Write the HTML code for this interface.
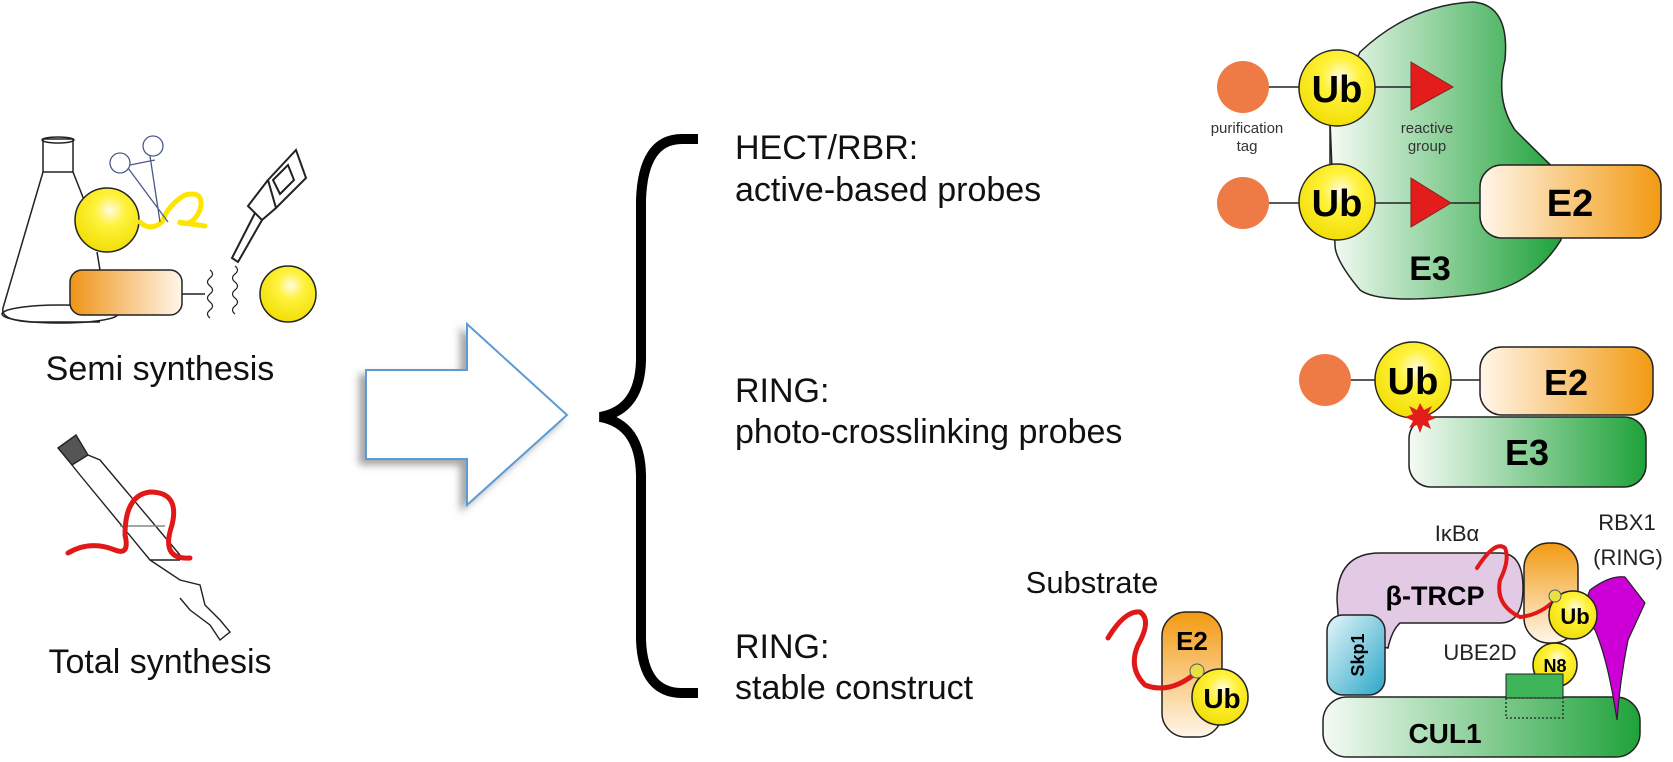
<!DOCTYPE html>
<html><head><meta charset="utf-8"><style>
html,body{margin:0;padding:0;background:#fff}
svg{display:block}
text{font-family:"Liberation Sans",Arial,sans-serif}
</style></head><body>
<svg width="1673" height="762" viewBox="0 0 1673 762" xmlns="http://www.w3.org/2000/svg">
<defs>
<radialGradient id="yel" cx="0.55" cy="0.35" r="0.7"><stop offset="0" stop-color="#fffbe0"/><stop offset="0.35" stop-color="#fff23a"/><stop offset="1" stop-color="#f0dc00"/></radialGradient>
<linearGradient id="orL" x1="0" x2="1"><stop offset="0" stop-color="#fff6ea"/><stop offset="1" stop-color="#f29a12"/></linearGradient>
<linearGradient id="orR" x1="0" x2="1"><stop offset="0" stop-color="#ef9418"/><stop offset="1" stop-color="#fff6ea"/></linearGradient>
<linearGradient id="orV" x1="0" y1="0" x2="0" y2="1"><stop offset="0" stop-color="#f29a12"/><stop offset="1" stop-color="#fff6ea"/></linearGradient>
<linearGradient id="grL" x1="0" x2="1"><stop offset="0" stop-color="#f4fbf4"/><stop offset="1" stop-color="#1fa23a"/></linearGradient>
<linearGradient id="blu" x1="0" y1="0" x2="1" y2="1"><stop offset="0" stop-color="#e6f6fa"/><stop offset="1" stop-color="#2aa6c8"/></linearGradient>
<filter id="sh" x="-20%" y="-20%" width="140%" height="140%"><feDropShadow dx="-6" dy="5" stdDeviation="4" flood-color="#666" flood-opacity="0.6"/></filter>
</defs>

<!-- LEFT: semi synthesis -->
<g fill="none" stroke="#222" stroke-width="1.5">
<rect x="43" y="139" width="30" height="33"/>
<ellipse cx="58" cy="140" rx="16" ry="3"/>
<path d="M43 172 L3 308 Q0 320 30 322 L100 322"/>
<path d="M73 172 L90 215"/>
<ellipse cx="60" cy="314" rx="58" ry="9"/>
</g>
<circle cx="107" cy="220" r="32" fill="url(#yel)" stroke="#222" stroke-width="1.5"/>
<path d="M97 252 L100 270" stroke="#222" stroke-width="1.5"/>
<path d="M140 222 Q150 232 162 222 Q168 205 185 195 Q205 190 200 210 Q192 228 178 222 L205 226" fill="none" stroke="#ffe400" stroke-width="5" stroke-linecap="round"/>
<g fill="none" stroke="#4a5a8a" stroke-width="1.3">
<circle cx="120" cy="163" r="10"/><circle cx="153" cy="146" r="10"/>
<path d="M128 168 L168 222 M150 156 L160 222 M130 165 L155 160"/>
</g>
<rect x="70" y="270" width="112" height="45" rx="12" fill="url(#orR)" stroke="#222" stroke-width="1.5"/>
<path d="M182 294 L205 294 M270 294 L260 294" stroke="#222" stroke-width="1.5"/>
<path d="M210 270 q5 4 0 8 q-5 4 0 8 q5 4 0 8 q-5 4 0 8 q5 4 0 8 q-5 4 0 8" fill="none" stroke="#222" stroke-width="1.2"/>
<path d="M235 266 q5 4 0 8 q-5 4 0 8 q5 4 0 8 q-5 4 0 8 q5 4 0 8 q-5 4 0 8" fill="none" stroke="#222" stroke-width="1.2"/>
<circle cx="288" cy="294" r="28" fill="url(#yel)" stroke="#222" stroke-width="1.5"/>
<g fill="none" stroke="#222" stroke-width="2">
<path d="M268 180 L296 150 L306 178 L276 208 Z"/>
<path d="M273 180 L288 165 L294 180 L280 194 Z"/>
<path d="M276 208 L262 220 L248 206 L268 180"/>
<path d="M255 213 L232 258 L238 262 L262 220"/>
</g>
<text x="160" y="380" font-size="34" text-anchor="middle" fill="#111">Semi synthesis</text>

<!-- total synthesis column -->
<g fill="none" stroke="#222" stroke-width="1.4">
<path d="M58 448 L76 435 L88 455 L72 465 Z" fill="#555"/>
<path d="M72 465 L80 475 L150 560 L180 560"/>
<path d="M88 455 L100 460 L180 555"/>
<path d="M150 560 L180 580 L200 585 L205 605 L220 620 L230 632 L220 640 L210 625 L190 610 L180 598"/>
<path d="M120 526 L165 526" stroke="#888"/>
</g>
<path d="M68 553 Q90 540 115 550 Q130 556 125 535 Q125 495 150 492 Q180 492 172 525 Q160 560 190 558" fill="none" stroke="#e01818" stroke-width="5" stroke-linecap="round"/>
<text x="160" y="673" font-size="34" text-anchor="middle" fill="#111">Total synthesis</text>

<!-- arrow -->
<path d="M366 370 L467 370 L467 324 L567 415 L467 505 L467 459 L366 459 Z" fill="#fff" stroke="#5b9bd5" stroke-width="2" filter="url(#sh)"/>

<!-- brace -->
<path d="M698 139 L682 139 Q643 139 641 200 L641 360 Q640 410 600 417 Q640 424 641 475 L641 640 Q643 693 682 693 L698 693" fill="none" stroke="#000" stroke-width="10"/>

<g font-size="34" fill="#111">
<text x="735" y="159">HECT/RBR:</text>
<text x="735" y="201">active-based probes</text>
<text x="735" y="402">RING:</text>
<text x="735" y="443">photo-crosslinking probes</text>
<text x="735" y="658">RING:</text>
<text x="735" y="699">stable construct</text>
</g>

<!-- TOP RIGHT -->
<path d="M1360 52 Q1410 5 1473 2 Q1510 5 1505 60 Q1495 100 1515 130 Q1545 160 1561 175 L1561 240 Q1530 290 1470 295 Q1380 305 1360 290 Q1335 260 1335 245 L1330 120 Z" fill="url(#grL)" stroke="#222" stroke-width="1.5"/>
<path d="M1330 125 L1330 165" stroke="#222" stroke-width="1.5"/>
<path d="M1269 87 L1300 87 M1375 87 L1411 87 M1269 203 L1300 203 M1375 203 L1411 203 L1480 203" stroke="#222" stroke-width="1.5"/>
<circle cx="1243" cy="87" r="26" fill="#ee7a45"/>
<circle cx="1243" cy="203" r="26" fill="#ee7a45"/>
<circle cx="1337" cy="88" r="38" fill="url(#yel)" stroke="#222" stroke-width="1.5"/>
<circle cx="1337" cy="202" r="38" fill="url(#yel)" stroke="#222" stroke-width="1.5"/>
<text x="1337" y="102" font-size="38" font-weight="bold" text-anchor="middle">Ub</text>
<text x="1337" y="216" font-size="38" font-weight="bold" text-anchor="middle">Ub</text>
<path d="M1411 62 L1453 87 L1411 110 Z" fill="#e31c1c" stroke="#822" stroke-width="1"/>
<path d="M1411 178 L1451 203 L1411 227 Z" fill="#e31c1c" stroke="#822" stroke-width="1"/>
<text x="1247" y="133" font-size="15" text-anchor="middle" fill="#333">purification</text>
<text x="1247" y="151" font-size="15" text-anchor="middle" fill="#333">tag</text>
<text x="1427" y="133" font-size="15" text-anchor="middle" fill="#333">reactive</text>
<text x="1427" y="151" font-size="15" text-anchor="middle" fill="#333">group</text>
<rect x="1480" y="165" width="181" height="73" rx="22" fill="url(#orL)" stroke="#222" stroke-width="1.5"/>
<text x="1570" y="216" font-size="38" font-weight="bold" text-anchor="middle">E2</text>
<text x="1430" y="280" font-size="34" font-weight="bold" text-anchor="middle">E3</text>

<!-- photo-crosslinking -->
<rect x="1409" y="417" width="237" height="70" rx="22" fill="url(#grL)" stroke="#222" stroke-width="1.5"/>
<text x="1527" y="465" font-size="36" font-weight="bold" text-anchor="middle">E3</text>
<path d="M1351 380 L1380 380 M1450 380 L1480 380" stroke="#222" stroke-width="1.5"/>
<circle cx="1325" cy="380" r="26" fill="#ee7a45"/>
<rect x="1480" y="347" width="173" height="68" rx="22" fill="url(#orL)" stroke="#222" stroke-width="1.5"/>
<text x="1566" y="395" font-size="36" font-weight="bold" text-anchor="middle">E2</text>
<circle cx="1413" cy="380" r="38" fill="url(#yel)" stroke="#222" stroke-width="1.5"/>
<text x="1413" y="394" font-size="38" font-weight="bold" text-anchor="middle">Ub</text>
<path d="M1420 403 L1424 410 L1432 406 L1428 414 L1436 418 L1428 421 L1431 429 L1423 425 L1420 433 L1417 425 L1409 428 L1413 421 L1405 417 L1413 414 L1409 406 L1417 410 Z" fill="#e31c1c"/>

<!-- substrate E2-Ub -->
<text x="1092" y="593" font-size="31" text-anchor="middle" fill="#111">Substrate</text>
<rect x="1162" y="612" width="60" height="125" rx="24" fill="url(#orV)" stroke="#222" stroke-width="1.5"/>
<text x="1192" y="650" font-size="26" font-weight="bold" text-anchor="middle">E2</text>
<path d="M1108 638 Q1125 610 1140 612 Q1152 620 1138 645 Q1128 668 1145 685 Q1170 695 1197 672" fill="none" stroke="#e01818" stroke-width="5" stroke-linecap="round"/>
<circle cx="1220" cy="697" r="28" fill="url(#yel)" stroke="#222" stroke-width="1.5"/>
<text x="1222" y="708" font-size="28" font-weight="bold" text-anchor="middle">Ub</text>
<circle cx="1197" cy="671" r="7" fill="#e8e040" stroke="#556" stroke-width="1"/>

<!-- bottom right SCF -->
<path d="M1337 600 Q1337 553 1380 553 L1500 553 Q1523 553 1523 588 Q1523 623 1500 623 L1400 623 Q1392 630 1388 648 L1340 640 Z" fill="#e2c9e4" stroke="#222" stroke-width="1.5"/>
<text x="1435" y="605" font-size="27" font-weight="bold" text-anchor="middle">β-TRCP</text>
<rect x="1327" y="615" width="58" height="80" rx="16" fill="url(#blu)" stroke="#222" stroke-width="1.5"/>
<text transform="translate(1364,655) rotate(-90)" font-size="18" font-weight="bold" text-anchor="middle">Skp1</text>
<rect x="1323" y="697" width="317" height="60" rx="24" fill="url(#grL)" stroke="#222" stroke-width="1.5"/>
<text x="1445" y="743" font-size="28" font-weight="bold" text-anchor="middle">CUL1</text>
<rect x="1524" y="543" width="54" height="100" rx="25" fill="url(#orV)" stroke="#222" stroke-width="1.5"/>
<circle cx="1555" cy="665" r="22" fill="url(#yel)" stroke="#222" stroke-width="1.5"/>
<text x="1555" y="672" font-size="18" font-weight="bold" text-anchor="middle">N8</text>
<rect x="1506" y="674" width="57" height="24" fill="#3fb55a" stroke="#222" stroke-width="1"/>
<rect x="1506" y="698" width="57" height="20" fill="none" stroke="#222" stroke-width="1.3" stroke-dasharray="2,2"/>
<path d="M1590 590 Q1610 575 1625 577 L1645 603 L1628 640 Q1620 680 1617 720 Q1608 660 1595 630 Q1580 612 1590 590 Z" fill="#cc00d6" stroke="#222" stroke-width="1.2"/>
<path d="M1477 568 Q1495 540 1505 548 Q1510 560 1500 580 Q1495 605 1520 617 Q1540 615 1555 600" fill="none" stroke="#e01818" stroke-width="4" stroke-linecap="round"/>
<circle cx="1573" cy="615" r="24" fill="url(#yel)" stroke="#222" stroke-width="1.5"/>
<text x="1575" y="624" font-size="22" font-weight="bold" text-anchor="middle">Ub</text>
<circle cx="1555" cy="596" r="6" fill="#e8e040" stroke="#556" stroke-width="1"/>
<text x="1457" y="541" font-size="22" text-anchor="middle" fill="#222">IκBα</text>
<text x="1627" y="530" font-size="22" text-anchor="middle" fill="#222">RBX1</text>
<text x="1628" y="565" font-size="22" text-anchor="middle" fill="#222">(RING)</text>
<text x="1480" y="660" font-size="22" text-anchor="middle" fill="#222">UBE2D</text>
</svg>
</body></html>
